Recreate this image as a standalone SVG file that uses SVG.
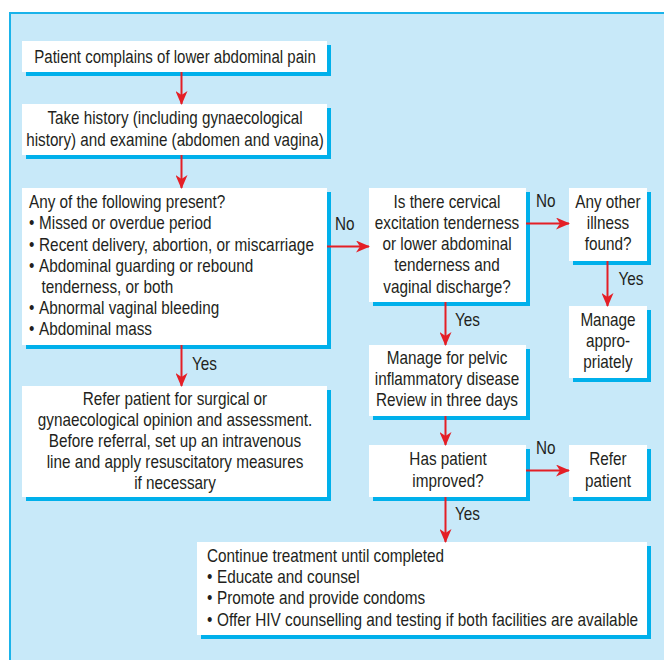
<svg xmlns="http://www.w3.org/2000/svg" width="664" height="660" viewBox="0 0 664 660">
<defs>
<style>
.bg{fill:#c8e9f9;stroke:#1ab3ea;stroke-width:2}
.sh{fill:#00b0eb}
.bx{fill:#ffffff}
text{font-family:"Liberation Sans",Arial,sans-serif;font-size:18px;fill:#231f20}
.c{text-anchor:middle}
.ln{stroke:#e41f26;stroke-width:2;fill:none}
</style>
<marker id="ah" markerWidth="14" markerHeight="12" refX="13" refY="6" orient="auto" markerUnits="userSpaceOnUse">
<path d="M0,0 L14,6 L0,12 L4,6 z" fill="#e41f26"/>
</marker>
</defs>
<rect x="10" y="13" width="670" height="670" class="bg"/>
<g id="n1">
<rect x="26" y="45" width="305" height="31" class="sh"/>
<rect x="22" y="41" width="305" height="31" class="bx"/>
<text transform="translate(175 63) scale(.835 1)" class="c">Patient complains of lower abdominal pain</text>
</g>
<g id="n2">
<rect x="26" y="108" width="305" height="51" class="sh"/>
<rect x="22" y="104" width="305" height="51" class="bx"/>
<text transform="translate(175 124) scale(.845 1)" class="c">Take history (including gynaecological</text>
<text transform="translate(175 145.5) scale(.845 1)" class="c">history) and examine (abdomen and vagina)</text>
</g>
<g id="n3">
<rect x="26" y="192" width="305" height="157" class="sh"/>
<rect x="22" y="188" width="305" height="157" class="bx"/>
<text transform="translate(29 208) scale(.85 1)">Any of the following present?</text>
<text transform="translate(29 229) scale(.85 1)">•</text><text transform="translate(39 229) scale(.85 1)">Missed or overdue period</text>
<text transform="translate(29 250.5) scale(.85 1)">•</text><text transform="translate(39 250.5) scale(.855 1)">Recent delivery, abortion, or miscarriage</text>
<text transform="translate(29 271.5) scale(.85 1)">•</text><text transform="translate(39 271.5) scale(.85 1)">Abdominal guarding or rebound</text>
<text transform="translate(41.5 292.5) scale(.85 1)">tenderness, or both</text>
<text transform="translate(29 314) scale(.85 1)">•</text><text transform="translate(39 314) scale(.85 1)">Abnormal vaginal bleeding</text>
<text transform="translate(29 335) scale(.85 1)">•</text><text transform="translate(39 335) scale(.85 1)">Abdominal mass</text>
</g>
<g id="n4">
<rect x="26" y="390" width="305" height="111" class="sh"/>
<rect x="22" y="386" width="305" height="111" class="bx"/>
<text transform="translate(175 405) scale(.85 1)" class="c">Refer patient for surgical or</text>
<text transform="translate(175 426) scale(.85 1)" class="c">gynaecological opinion and assessment.</text>
<text transform="translate(175 447) scale(.85 1)" class="c">Before referral, set up an intravenous</text>
<text transform="translate(175 467.5) scale(.85 1)" class="c">line and apply resuscitatory measures</text>
<text transform="translate(175 488.5) scale(.85 1)" class="c">if necessary</text>
</g>
<g id="n5">
<rect x="373" y="192" width="157" height="114" class="sh"/>
<rect x="369" y="188" width="157" height="114" class="bx"/>
<text transform="translate(447 208) scale(.85 1)" class="c">Is there cervical</text>
<text transform="translate(447 229) scale(.85 1)" class="c">excitation tenderness</text>
<text transform="translate(447 250) scale(.85 1)" class="c">or lower abdominal</text>
<text transform="translate(447 271) scale(.85 1)" class="c">tenderness and</text>
<text transform="translate(447 292.5) scale(.85 1)" class="c">vaginal discharge?</text>
</g>
<g id="n6">
<rect x="573" y="192" width="78" height="73" class="sh"/>
<rect x="569" y="188" width="78" height="73" class="bx"/>
<text transform="translate(608 208) scale(.85 1)" class="c">Any other</text>
<text transform="translate(608 229) scale(.85 1)" class="c">illness</text>
<text transform="translate(608 250) scale(.85 1)" class="c">found?</text>
</g>
<g id="n7">
<rect x="573" y="310" width="78" height="72" class="sh"/>
<rect x="569" y="306" width="78" height="72" class="bx"/>
<text transform="translate(608 325.5) scale(.85 1)" class="c">Manage</text>
<text transform="translate(608 347) scale(.85 1)" class="c">appro-</text>
<text transform="translate(608 367.5) scale(.85 1)" class="c">priately</text>
</g>
<g id="n8">
<rect x="373" y="349" width="157" height="71" class="sh"/>
<rect x="369" y="345" width="157" height="71" class="bx"/>
<text transform="translate(447 363.5) scale(.85 1)" class="c">Manage for pelvic</text>
<text transform="translate(447 384.5) scale(.85 1)" class="c">inflammatory disease</text>
<text transform="translate(447 405.5) scale(.85 1)" class="c">Review in three days</text>
</g>
<g id="n9">
<rect x="373" y="449" width="157" height="52" class="sh"/>
<rect x="369" y="445" width="157" height="52" class="bx"/>
<text transform="translate(448 465) scale(.85 1)" class="c">Has patient</text>
<text transform="translate(448 486.5) scale(.85 1)" class="c">improved?</text>
</g>
<g id="n10">
<rect x="573" y="449" width="78" height="52" class="sh"/>
<rect x="569" y="445" width="78" height="52" class="bx"/>
<text transform="translate(608 465) scale(.85 1)" class="c">Refer</text>
<text transform="translate(608 486.5) scale(.85 1)" class="c">patient</text>
</g>
<g id="n11">
<rect x="201" y="546" width="450" height="93" class="sh"/>
<rect x="197" y="542" width="450" height="93" class="bx"/>
<text transform="translate(207 561.5) scale(.85 1)">Continue treatment until completed</text>
<text transform="translate(207 583) scale(.85 1)">•</text><text transform="translate(217 583) scale(.85 1)">Educate and counsel</text>
<text transform="translate(207 604) scale(.85 1)">•</text><text transform="translate(217 604) scale(.85 1)">Promote and provide condoms</text>
<text transform="translate(207 625.5) scale(.85 1)">•</text><text transform="translate(217 625.5) scale(.855 1)">Offer HIV counselling and testing if both facilities are available</text>
</g>
<g id="connectors">
<line x1="181.5" y1="72" x2="181.5" y2="104" class="ln" marker-end="url(#ah)"/>
<line x1="181.5" y1="155" x2="181.5" y2="188" class="ln" marker-end="url(#ah)"/>
<line x1="181.5" y1="345" x2="181.5" y2="386" class="ln" marker-end="url(#ah)"/>
<line x1="327" y1="246.5" x2="369" y2="246.5" class="ln" marker-end="url(#ah)"/>
<line x1="526" y1="223.5" x2="569" y2="223.5" class="ln" marker-end="url(#ah)"/>
<line x1="607.5" y1="261" x2="607.5" y2="306" class="ln" marker-end="url(#ah)"/>
<line x1="445.5" y1="302" x2="445.5" y2="345" class="ln" marker-end="url(#ah)"/>
<line x1="445.5" y1="416" x2="445.5" y2="445" class="ln" marker-end="url(#ah)"/>
<line x1="526" y1="470.5" x2="569" y2="470.5" class="ln" marker-end="url(#ah)"/>
<line x1="445.5" y1="497" x2="445.5" y2="542" class="ln" marker-end="url(#ah)"/>
<text transform="translate(192 370) scale(.85 1)">Yes</text>
<text transform="translate(335 230) scale(.85 1)">No</text>
<text transform="translate(536 207) scale(.85 1)">No</text>
<text transform="translate(618.5 285) scale(.85 1)">Yes</text>
<text transform="translate(455 326) scale(.85 1)">Yes</text>
<text transform="translate(536 453.5) scale(.85 1)">No</text>
<text transform="translate(455 520) scale(.85 1)">Yes</text>
</g>
</svg>
